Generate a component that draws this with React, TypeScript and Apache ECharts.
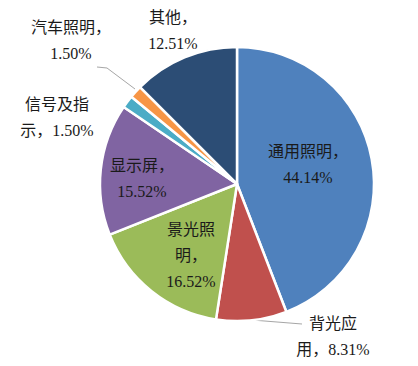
import React, { useEffect, useRef } from "react";
import * as echarts from "echarts";

const categories = ["通用照明", "背光应用", "景光照明", "显示屏", "信号及指示", "汽车照明", "其他"];
const values = [44.14, 8.31, 16.52, 15.52, 1.5, 1.5, 12.51];
const labelPrefixes = ["通用照明，\n", "背光应\n用，", "景光照\n明，\n", "显示屏，\n", "信号及指\n示，", "汽车照明，\n", "其他，\n"];
const colors = ["#4F81BD", "#C0504D", "#9BBB59", "#8064A2", "#4BACC6", "#F79646", "#2C4D75"];

const labelCenters: [number, number][] = [
  [308, 164],
  [333, 336],
  [191, 255],
  [142, 178],
  [57, 117],
  [71, 40],
  [173, 30],
];
const leaderLines: Record<number, number[][]> = {
  1: [[252, 320], [277, 322], [302, 324]],
  5: [[135, 89], [107, 68], [97, 67]],
};

export default function App() {
  const ref = useRef<HTMLDivElement>(null);
  useEffect(() => {
    document.body.style.margin = "0";
    const chart = echarts.init(ref.current!, undefined, { renderer: "svg" });
    chart.setOption({
      animation: false,
      backgroundColor: "#ffffff",
      series: [
        {
          type: "pie",
          center: [237, 184],
          radius: 137,
          startAngle: 90,
          clockwise: true,
          avoidLabelOverlap: false,
          itemStyle: { borderColor: "#ffffff", borderWidth: 2.5 },
          label: {
            show: true,
            color: "#1a1a1a",
            fontSize: 16,
            lineHeight: 26,
            fontFamily: "'Liberation Serif', 'Noto Sans CJK SC', serif",
            align: "center",
            formatter: (p: any) => labelPrefixes[p.dataIndex] + p.value.toFixed(2) + "%",
          },
          labelLine: {
            show: true,
            lineStyle: { color: "#A6A6A6", width: 1 },
          },
          labelLayout: (params: any) => {
            const i = params.dataIndex;
            const res: any = {
              x: labelCenters[i][0],
              y: labelCenters[i][1],
              align: "center",
              verticalAlign: "middle",
            };
            if (leaderLines[i]) res.labelLinePoints = leaderLines[i];
            return res;
          },
          data: categories.map((name, i) => ({
            name,
            value: values[i],
            itemStyle: { color: colors[i] },
            labelLine: { show: !!leaderLines[i] },
          })),
        },
      ],
    });
    return () => chart.dispose();
  }, []);
  return <div ref={ref} style={{ width: 418, height: 366 }} />;
}
